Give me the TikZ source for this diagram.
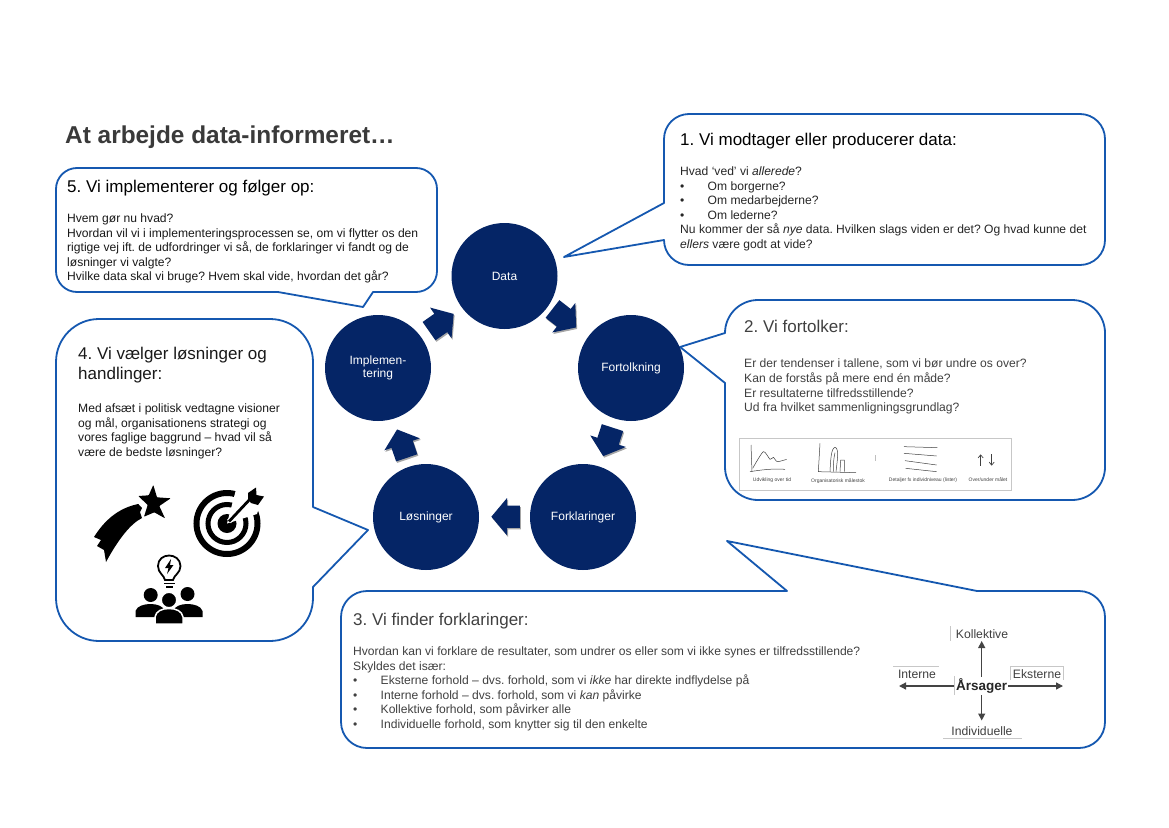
\documentclass[tikz,border=0pt]{standalone}
\usepackage{fontspec}
\setmainfont{Liberation Sans}
\usetikzlibrary{shapes.arrows,shadows,arrows.meta}
\definecolor{navy}{HTML}{052566}
\definecolor{bubbleblue}{HTML}{1558B0}
\definecolor{txtgrey}{HTML}{404040}
\definecolor{titlegrey}{HTML}{3A3A3A}
\definecolor{arrgrey}{HTML}{444444}
\newcommand{\bl}{\makebox[27.5pt][l]{•}}
\frenchspacing
\tikzset{
  bubble/.style={draw=bubbleblue,line width=1.8pt,fill=white,line join=round},
  circ/.style={circle,fill=navy,minimum size=106pt,inner sep=0pt,text=white,align=center,font=\fontsize{12}{13}\selectfont},
  blockarrow/.style={single arrow,fill=navy,inner xsep=0pt,inner ysep=11pt,minimum height=30pt,
    single arrow head extend=7.5pt,single arrow tip angle=100,
    copy shadow={opacity=.35,shadow xshift=1pt,shadow yshift=-1.5pt,fill=black,draw=none}},
  head/.style={anchor=base west,inner sep=0pt,font=\fontsize{17}{20}\selectfont},
  body/.style={anchor=north west,inner sep=0pt,align=left,font=\fontsize{12.1}{14.6}\selectfont},
  sketch/.style={draw=black!75,line width=.5pt},
  tiny/.style={inner sep=0pt,font=\fontsize{5}{6}\selectfont,text=black!75},
  cause/.style={inner sep=0pt,font=\fontsize{12.2}{14}\selectfont,text=txtgrey},
  causearrow/.style={draw=arrgrey,line width=1.3pt,-{Triangle[length=7pt,width=7pt]}},
  frameline/.style={draw=black!22,line width=.5pt},
}
\begin{document}
\begin{tikzpicture}[x=1pt,y=-1pt]
\useasboundingbox (0,0) rectangle (1169,827);
\fill[white] (0,0) rectangle (1169,827);

\node[anchor=base west,inner sep=0pt,font=\bfseries\fontsize{24.4}{28}\selectfont,text=titlegrey] (title) at (65,143) {At arbejde data-informeret…};

% bubble 1
\draw[bubble] (689,114) -- (1080,114) arc[start angle=-90,end angle=0,radius=25] -- (1105,240) arc[start angle=0,end angle=90,radius=25] -- (689,265) arc[start angle=90,end angle=180,radius=25] -- (564,257) -- (664,203) -- (664,139) arc[start angle=180,end angle=270,radius=25] -- cycle;
% bubble 2
\draw[bubble] (758,300) -- (1072,300) arc[start angle=-90,end angle=0,radius=33] -- (1105,467) arc[start angle=0,end angle=90,radius=33] -- (758,500) arc[start angle=90,end angle=180,radius=33] -- (725,383) -- (680,347) -- (725,333) arc[start angle=180,end angle=270,radius=33] -- cycle;
% bubble 3
\draw[bubble] (977,591) -- (1079,591) arc[start angle=-90,end angle=0,radius=26] -- (1105,722) arc[start angle=0,end angle=90,radius=26] -- (367,748) arc[start angle=90,end angle=180,radius=26] -- (341,617) arc[start angle=180,end angle=270,radius=26] -- (787,591) -- (727,541) -- cycle;
% bubble 4
\draw[bubble] (99,319) -- (270,319) arc[start angle=-90,end angle=0,radius=43] -- (313,507) -- (368,530) -- (313,587) -- (313,598) arc[start angle=0,end angle=90,radius=43] -- (99,641) arc[start angle=90,end angle=180,radius=43] -- (56,362) arc[start angle=180,end angle=270,radius=43] -- cycle;
% bubble 5
\draw[bubble] (77,168) -- (416,168) arc[start angle=-90,end angle=0,radius=21] -- (437,271) arc[start angle=0,end angle=90,radius=21] -- (373,292) -- (363,307) -- (278,292) -- (77,292) arc[start angle=90,end angle=180,radius=21] -- (56,189) arc[start angle=180,end angle=270,radius=21] -- cycle;

% cycle
\node[circ] (data) at (504.5,276) {Data};
\node[circ] (fort) at (631,368) {Fortolkning};
\node[circ] (fork) at (583,517) {Forklaringer};
\node[circ] (loes) at (426,517) {Løsninger};
\node[circ] (impl) at (378,368) {Implemen-\\tering};

\node[blockarrow,rotate=-38] (a1) at (560.6,315.3) {};
\node[blockarrow,rotate=-108] (a2) at (609.3,437.4) {};
\node[blockarrow,rotate=180,minimum height=28.5pt] (a3) at (510.3,516.7) {};
\node[blockarrow,rotate=108.7] (a4) at (403.4,448.1) {};
\node[blockarrow,rotate=35] (a5) at (437.5,325.2) {};

% bubble 1 text
\node[head] (h1) at (680,145.5) {1. Vi modtager eller producerer data:};
\node[body,text=black!85] (b1) at (680,166.5) {Hvad ‘ved’ vi \textit{allerede}?\\
\bl Om borgerne?\\
\bl Om medarbejderne?\\
\bl Om lederne?\\
Nu kommer der så \textit{nye} data. Hvilken slags viden er det? Og hvad kunne det\\
\textit{ellers} være godt at vide?};

% bubble 2 text
\node[head,text=txtgrey] (h2) at (744,332) {2. Vi fortolker:};
\node[body,text=txtgrey] (b2) at (744,359) {Er der tendenser i tallene, som vi bør undre os over?\\
Kan de forstås på mere end én måde?\\
Er resultaterne tilfredsstillende?\\
Ud fra hvilket sammenligningsgrundlag?};

% chart strip
\draw[draw=black!22,fill=white,line width=.6pt] (739,438) rectangle (1011,490);
\begin{scope}[shift={(730,430)},x=.3333pt,y=-.3333pt]
\draw[sketch] (63,45) -- (66,125);
\draw[sketch] (60,125) .. controls (90,120) and (130,115) .. (165,118);
\draw[sketch] plot[smooth,tension=.4] coordinates {(68,115) (100,65) (120,88) (130,82) (142,95) (170,88)};
\draw[sketch] (270,40) -- (265,125) -- (378,128);
\draw[sketch] (300,125) .. controls (302,90) and (303,55) .. (315,52) .. controls (328,55) and (322,90) .. (318,125);
\draw[sketch] (310,125) .. controls (310,100) and (311,85) .. (315,68);
\draw[sketch] (330,125) -- (332,90) -- (343,90) -- (343,125);
\draw[draw=black!25,line width=.5pt] (437,75) -- (437,92);
\draw[sketch] (522,50) -- (622,53);
\draw[sketch] (522,70) -- (620,78);
\draw[sketch] (525,92) -- (620,105);
\draw[sketch] (527,115) -- (620,125);
\draw[sketch,line width=.7pt,-{Straight Barb[length=3pt,width=5pt]}] (752,107) -- (752,73);
\draw[sketch,line width=.7pt,-{Straight Barb[length=3pt,width=5pt]}] (785,73) -- (785,107);
\end{scope}
\node[tiny] (t1) at (772,480) {Udvikling over tid};
\node[tiny] (t2) at (838,481) {Organisatorisk målestok};
\node[tiny] (t3) at (923,480) {Detaljer fx individniveau (lister)};
\node[tiny] (t4) at (988,480) {Over/under målet};

% bubble 3 text
\node[head,text=txtgrey] (h3) at (353,625.5) {3. Vi finder forklaringer:};
\node[body,text=txtgrey] (b3) at (353,646.5) {Hvordan kan vi forklare de resultater, som undrer os eller som vi ikke synes er tilfredsstillende?\\
Skyldes det især:\\
\bl Eksterne forhold – dvs. forhold, som vi \textit{ikke} har direkte indflydelse på\\
\bl Interne forhold – dvs. forhold, som vi \textit{kan} påvirke\\
\bl Kollektive forhold, som påvirker alle\\
\bl Individuelle forhold, som knytter sig til den enkelte};

% causes diagram
\node[inner sep=0pt,font=\bfseries\fontsize{13.5}{15}\selectfont,text=black!85] (aars) at (981.7,685.7) {Årsager};
\node[cause] (kol) at (982,634) {Kollektive};
\node[cause] (int) at (917,674) {Interne};
\node[cause] (eks) at (1037,674) {Eksterne};
\node[cause] (ind) at (982,731.5) {Individuelle};
\draw[frameline] (950.5,626) -- (950.5,641);
\draw[frameline] (893,666) -- (939,666);
\draw[frameline] (1010,680) -- (1010,666) -- (1063,666) -- (1063,680);
\draw[frameline] (943,738.5) -- (1022,738.5);
\draw[frameline] (954,676) -- (954,695);
\coordinate (cUp) at (981.7,641);
\coordinate (cDown) at (981.7,720.5);
\coordinate (cLeft) at (899,686);
\coordinate (cRight) at (1063,686);
\draw[causearrow] (981.7,676.5) -- (cUp);
\draw[causearrow] (981.7,695) -- (cDown);
\draw[causearrow] (954,686) -- (cLeft);
\draw[causearrow] (1008,686) -- (cRight);

% bubble 4 text
\node[head,text=black!90,align=left,anchor=north west] (h4) at (78,347) {4. Vi vælger løsninger og\\handlinger:};
\node[body,text=black!90] (b4) at (78,403.5) {Med afsæt i politisk vedtagne visioner\\
og mål, organisationens strategi og\\
vores faglige baggrund – hvad vil så\\
være de bedste løsninger?};

% bubble 5 text
\node[head,text=black] (h5) at (67,192.5) {5. Vi implementerer og følger op:};
\node[body,text=black!90] (b5) at (67,213.5) {Hvem gør nu hvad?\\
Hvordan vil vi i implementeringsprocessen se, om vi flytter os den\\
rigtige vej ift. de udfordringer vi så, de forklaringer vi fandt og de\\
løsninger vi valgte?\\
Hvilke data skal vi bruge? Hvem skal vide, hvordan det går?};

% icon: shooting star
\fill[black,rounded corners=.6pt] (153.3,485) -- (157,497.3) -- (170.7,498.3) -- (159.3,506) -- (165,518.3) -- (154.3,512.3) -- (144,516.7) -- (147.7,505) -- (138.3,496) -- (148.7,495.3) -- cycle;
\fill[black] (138.3,504) .. controls (118,508) and (104,521) .. (94,537) -- (101,540) -- (97,546) -- (104,550) -- (106,562) .. controls (118,540) and (130,524) .. (142,518) -- (140,512) -- (142,508) -- cycle;

% icon: target
\draw[black,line width=6pt] (227,523.5) circle[radius=30.5];
\draw[black,line width=5pt] (227,523.5) circle[radius=19];
\fill[black] (227,523.5) circle[radius=9.5];
\fill[white] (227,523.5) -- (257,514) -- (266,485) -- (238,482) -- cycle;
\draw[white,line width=5pt] (229,521.5) -- (250,499);
\draw[black,line width=2.8pt] (229,521.5) -- (252,497);
\fill[black] (248,493) -- (256,487.5) -- (256.5,495) -- (264,496.5) -- (258,505) -- (251,503) -- (248,499) -- cycle;

% icon: people and bulb
\draw[black,line width=1.8pt] (165,580) .. controls (164,575) and (158,573) .. (158,566) .. controls (158,552) and (180,552) .. (180.5,566) .. controls (180.5,573) and (174,575) .. (173,580) -- cycle;
\fill[black] (171,559) -- (165,568) -- (168.5,568) -- (167,574) -- (173.5,565) -- (170,565) -- cycle;
\draw[black,line width=1.5pt] (164,583.5) -- (174.5,583.5);
\draw[black,line width=1.5pt] (166,587) -- (172.5,587);
\fill[black] (150.7,595) circle[radius=7];
\fill[black] (187.5,594) circle[radius=7];
\fill[black] (135.5,617) -- (135.5,611) .. controls (137,606) and (144,604) .. (150.5,604) .. controls (157,604) and (163,606) .. (165,611) -- (165,617) -- cycle;
\fill[black] (202.5,617) -- (202.5,611) .. controls (201,606) and (194,604) .. (187.5,604) .. controls (181,604) and (175,606) .. (173,611) -- (173,617) -- cycle;
\draw[white,line width=1.5pt,fill=black] (169,600) circle[radius=7.8];
\draw[white,line width=1.5pt,fill=black] (155,624) -- (155,617) .. controls (156,611) and (162,608.5) .. (169,608.5) .. controls (176,608.5) and (182,611) .. (183,617) -- (183,624) -- cycle;
\end{tikzpicture}
\end{document}
